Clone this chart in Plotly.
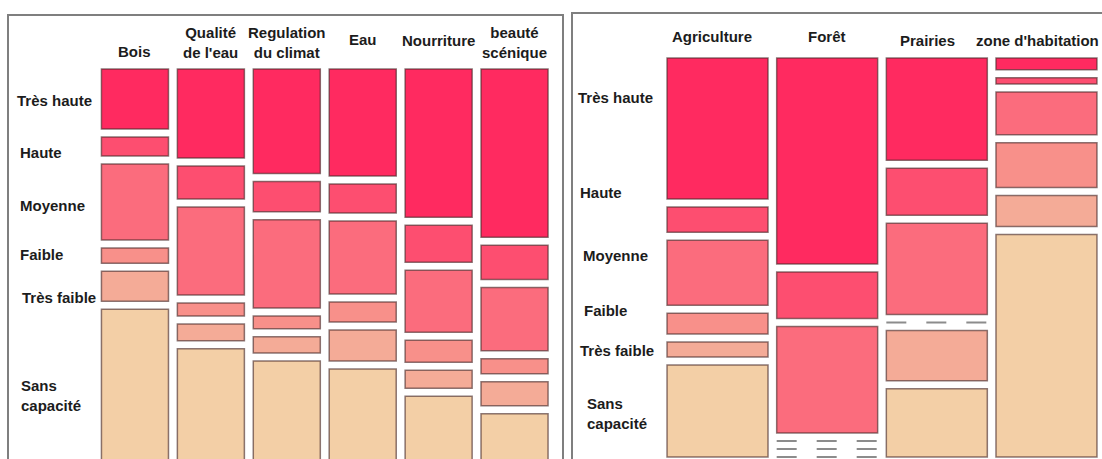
import plotly.graph_objects as go

# ---------------- data ----------------
levels = ["Très haute", "Haute", "Moyenne", "Faible", "Très faible", "Sans capacité"]

services = ["Bois", "Qualité<br>de l'eau", "Regulation<br>du climat", "Eau", "Nourriture", "beauté<br>scénique"]
tres_haute_s = [16.7, 24.8, 29.1, 29.8, 41.3, 46.9]
haute_s = [5.3, 9.2, 8.4, 8.1, 10.3, 9.5]
moyenne_s = [21.2, 24.5, 24.6, 20.3, 17.3, 17.6]
faible_s = [4.2, 3.6, 3.6, 5.6, 6.1, 4.2]
tres_faible_s = [8.4, 4.7, 4.5, 8.6, 5.0, 6.7]
sans_s = [44.2, 33.2, 29.8, 27.6, 20.0, 15.1]

landuse = ["Agriculture", "Forêt", "Prairies", "zone d'habitation"]
tres_haute_l = [39.3, 57.4, 28.5, 3.3]
haute_l = [7.0, 12.9, 13.1, 1.7]
moyenne_l = [18.1, 29.7, 25.4, 11.9]
faible_l = [5.8, 0.0, 0.0, 12.5]
tres_faible_l = [4.2, 0.0, 14.0, 8.6]
sans_l = [25.6, 0.0, 19.0, 62.0]

# ---------------- style ----------------
colors = ["#FF2A60", "#FD4E70", "#FB6C7D", "#F8908A", "#F4AB97", "#F3CFA6"]
outline = "rgba(70,40,40,0.62)"
W, H = 1102, 459
PX_PER_UNIT = 3.59
GAP = 8 / PX_PER_UNIT
FONT = "Liberation Sans, Arial, sans-serif"
TXT = "#1c1c1c"

fig = go.Figure()


def add_mosaic(cols, series, xa, ya, width):
    n = len(cols)
    base = [0.0] * n
    xs = list(range(n))
    for li, vals in enumerate(series):
        nz_x = [x for x, v in zip(xs, vals) if v > 0]
        nz_y = [v for v in vals if v > 0]
        nz_b = [b for b, v in zip(base, vals) if v > 0]
        fig.add_trace(go.Bar(
            x=nz_x, y=nz_y, base=nz_b, width=width,
            marker=dict(color=colors[li], line=dict(color=outline, width=1.5)),
            xaxis=xa, yaxis=ya, showlegend=False, hoverinfo="skip",
        ))
        for x, v, b in zip(xs, vals, base):
            if v == 0:
                fig.add_trace(go.Scatter(
                    x=[x - width / 2, x + width / 2], y=[b, b], mode="lines",
                    line=dict(color="#8c8c8c", width=2, dash="20px,20px"),
                    xaxis=xa, yaxis=ya, showlegend=False, hoverinfo="skip",
                ))
        base = [b + v + GAP for b, v in zip(base, vals)]


add_mosaic(services, [tres_haute_s, haute_s, moyenne_s, faible_s, tres_faible_s, sans_s], "x", "y", 0.883)
add_mosaic(landuse, [tres_haute_l, haute_l, moyenne_l, faible_l, tres_faible_l, sans_l], "x2", "y2", 0.921)

ax_common = dict(showgrid=False, zeroline=False, showticklabels=False, ticks="", showline=False, fixedrange=True)

left_top, left_domtop = 69, 60
right_top, right_domtop = 58, 50

fig.update_layout(
    width=W, height=H,
    margin=dict(l=0, r=0, t=0, b=0),
    paper_bgcolor="white", plot_bgcolor="white",
    barmode="overlay",
    xaxis=dict(domain=[97 / W, 552.5 / W], range=[-0.5, 5.5], **ax_common),
    yaxis=dict(domain=[0, 1 - left_domtop / H],
               range=[(H - left_top) / PX_PER_UNIT, (left_domtop - left_top) / PX_PER_UNIT], **ax_common),
    xaxis2=dict(domain=[662.7 / W, 1101.3 / W], range=[-0.5, 3.5], **ax_common),
    yaxis2=dict(domain=[0, 1 - right_domtop / H],
                range=[(H - right_top) / PX_PER_UNIT, (right_domtop - right_top) / PX_PER_UNIT], **ax_common),
    font=dict(family=FONT, color=TXT),
)

# panel frames
fig.add_shape(type="rect", xref="paper", yref="paper",
              x0=8 / W, x1=563 / W, y0=-0.05, y1=1 - 15 / H,
              line=dict(color="#7f7f7f", width=2), fillcolor="rgba(0,0,0,0)", layer="below")
fig.add_shape(type="rect", xref="paper", yref="paper",
              x0=572 / W, x1=1.02, y0=-0.05, y1=1 - 13 / H,
              line=dict(color="#7f7f7f", width=2), fillcolor="rgba(0,0,0,0)", layer="below")

# column headers
hdr_left_y = [52, 42.5, 42.5, 39, 40, 42]
for i, (name, py) in enumerate(zip(services, hdr_left_y)):
    fig.add_annotation(x=i, y=1 - py / H, xref="x", yref="paper", text="<b>" + name + "</b>",
                       showarrow=False, xanchor="center", yanchor="middle",
                       font=dict(size=15, family=FONT, color=TXT))
hdr_right_y = [37, 37, 40, 40]
hdr_right_dx = [-6, 0, -9, -9]
for i, (name, py, dx) in enumerate(zip(landuse, hdr_right_y, hdr_right_dx)):
    fig.add_annotation(x=i, y=1 - py / H, xref="x2", yref="paper", text="<b>" + name + "</b>",
                       showarrow=False, xanchor="center", yanchor="middle", xshift=dx,
                       font=dict(size=15, family=FONT, color=TXT))

# row labels
row_left = [(15, 100), (18, 153), (18, 205), (18, 254), (20, 297), (19, 395)]
row_right = [(576, 97), (578, 192), (581, 255), (582, 310), (578, 350), (585, 413)]
for lab, (px, py) in zip(levels, row_left):
    fig.add_annotation(x=px / W, y=1 - py / H, xref="paper", yref="paper",
                       text="<b>" + lab.replace("Sans capacité", "Sans<br>capacité") + "</b>",
                       showarrow=False, xanchor="left", yanchor="middle", align="left",
                       font=dict(size=15, family=FONT, color=TXT))
for lab, (px, py) in zip(levels, row_right):
    fig.add_annotation(x=px / W, y=1 - py / H, xref="paper", yref="paper",
                       text="<b>" + lab.replace("Sans capacité", "Sans<br>capacité") + "</b>",
                       showarrow=False, xanchor="left", yanchor="middle", align="left",
                       font=dict(size=15, family=FONT, color=TXT))

fig.write_html("out.html", config={"displayModeBar": False},
               post_script="document.body.style.margin='0';document.body.style.overflow='hidden';")
